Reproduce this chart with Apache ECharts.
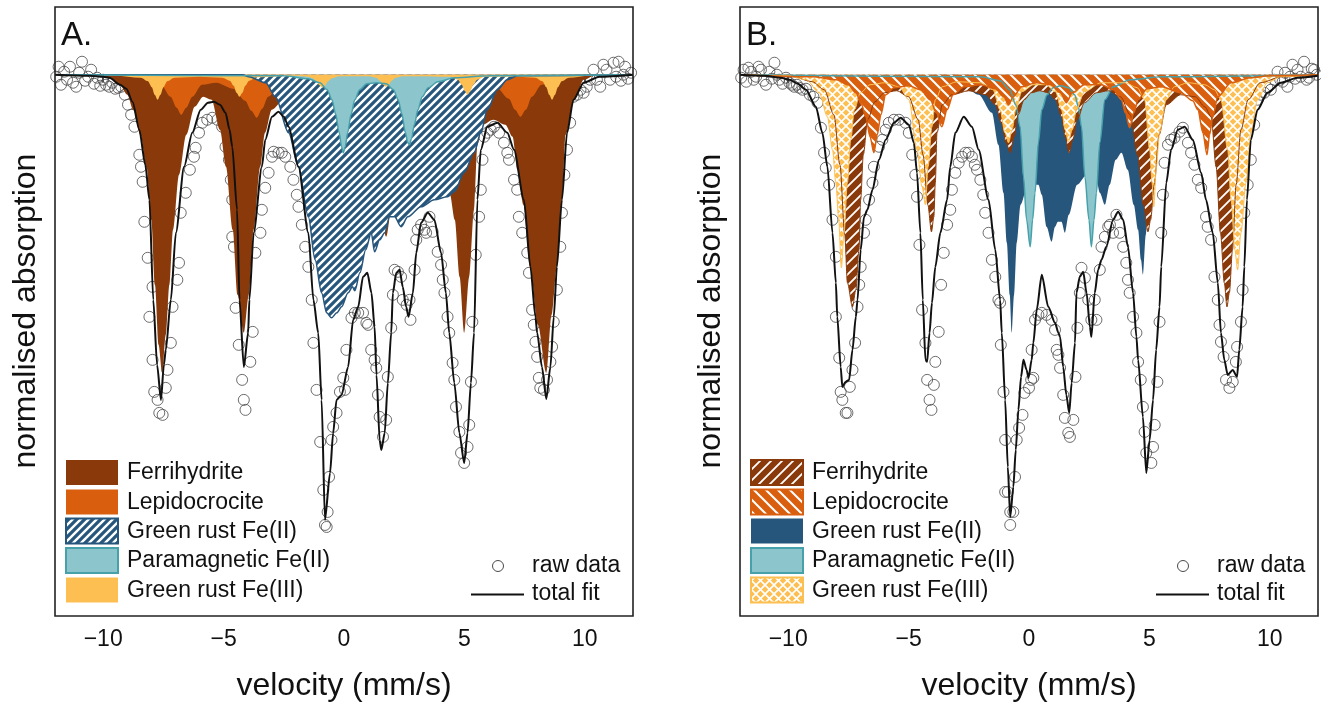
<!DOCTYPE html>
<html><head><meta charset="utf-8">
<script src="https://cdn.jsdelivr.net/npm/echarts@6/dist/echarts.min.js"></script>
<style>html,body{margin:0;padding:0;background:#fff}#c{width:1321px;height:704px}</style>
</head><body><div id="c"></div>
<script>
// ---------- DATA (velocity mm/s, absorption depth in arbitrary units) ----------
const xTicks = [-10, -5, 0, 5, 10];
const legendNames = ['Ferrihydrite', 'Lepidocrocite', 'Green rust Fe(II)', 'Paramagnetic Fe(II)', 'Green rust Fe(III)'];
const panelLabels = ['A.', 'B.'];

const A_ferrihydrite = [[-12,0],[-10.6,0.01],[-9.74,0.03],[-9.3,0.1],[-9.0,0.2],[-8.75,0.35],[-8.45,0.6],[-8.2,0.92],[-8.0,1.45],[-7.85,2.1],[-7.7,2.7],[-7.55,2.98],[-7.4,2.6],[-7.25,2.1],[-7.1,1.55],[-6.85,1.0],[-6.55,0.6],[-6.2,0.32],[-5.85,0.22],[-5.5,0.25],[-5.15,0.55],[-4.9,0.92],[-4.62,1.55],[-4.42,2.2],[-4.16,2.58],[-3.95,2.2],[-3.75,1.55],[-3.48,0.92],[-3.28,0.58],[-3.0,0.35],[-2.5,0.25],[-1.8,0.4],[-1.2,0.8],[-0.85,1.1],[-0.4,0.7],[0.4,0.45],[1.0,0.7],[1.45,1.2],[1.75,1.62],[2.05,1.2],[2.6,0.6],[3.4,0.55],[4.1,0.9],[4.4,1.2],[4.6,1.45],[4.8,2.02],[4.99,2.58],[5.2,2.02],[5.4,1.35],[5.54,0.7],[5.75,0.5],[6.2,0.45],[6.7,0.5],[7.0,0.62],[7.2,0.95],[7.45,1.3],[7.73,1.92],[8.05,2.5],[8.4,2.98],[8.62,2.4],[8.84,1.92],[9.05,1.25],[9.2,0.6],[9.55,0.25],[9.96,0.05],[10.4,0.01],[12,0]];
const A_lepidocrocite = [[-12,0],[-8.6,0.01],[-8.0,0.04],[-7.6,0.1],[-7.2,0.22],[-6.95,0.33],[-6.76,0.4],[-6.55,0.33],[-6.3,0.22],[-5.9,0.1],[-5.3,0.08],[-4.6,0.14],[-4.1,0.26],[-3.85,0.36],[-3.62,0.43],[-3.4,0.34],[-3.15,0.22],[-2.7,0.12],[-1.5,0.15],[-0.6,0.3],[0.3,0.15],[1.2,0.3],[2.5,0.15],[4.2,0.4],[5.5,0.12],[6.3,0.12],[6.85,0.24],[7.1,0.35],[7.33,0.42],[7.55,0.35],[7.8,0.22],[8.2,0.1],[9.0,0.03],[10,0.01],[12,0]];
const A_greenRustFe2 = [[-12,0],[-4.2,0],[-3.96,0.02],[-3.25,0.08],[-2.85,0.22],[-2.3,0.58],[-1.89,0.92],[-1.48,1.42],[-1.2,1.85],[-0.93,2.18],[-0.72,2.38],[-0.52,2.43],[-0.3,2.38],[-0.1,2.32],[0.17,2.18],[0.35,2.12],[0.45,2.16],[0.66,1.98],[0.9,1.75],[1.13,1.58],[1.27,1.77],[1.48,1.65],[1.69,1.58],[1.89,1.42],[2.1,1.42],[2.37,1.52],[2.65,1.42],[3.2,1.32],[3.75,1.25],[4.3,1.22],[4.58,1.17],[4.99,0.98],[5.4,0.78],[5.68,0.58],[5.95,0.35],[6.37,0.15],[6.78,0.05],[7.2,0.01],[12,0]];
const A_paramagnetic = [[-12,0],[-2.5,0.01],[-1.5,0.04],[-1.0,0.08],[-0.7,0.15],[-0.5,0.25],[-0.35,0.39],[-0.2,0.58],[-0.1,0.72],[-0.03,0.78],[0.05,0.72],[0.15,0.58],[0.3,0.39],[0.45,0.25],[0.65,0.15],[0.95,0.09],[1.35,0.08],[1.75,0.09],[2.05,0.15],[2.25,0.25],[2.4,0.39],[2.55,0.58],[2.65,0.68],[2.72,0.70],[2.8,0.64],[2.92,0.5],[3.07,0.35],[3.25,0.22],[3.5,0.13],[3.9,0.07],[4.6,0.03],[6,0.01],[12,0]];
const A_greenRustFe3 = [[-12,0],[-9.5,0.01],[-8.44,0.03],[-8.14,0.065],[-7.98,0.125],[-7.86,0.2],[-7.74,0.25],[-7.62,0.2],[-7.5,0.125],[-7.34,0.065],[-7.04,0.03],[-6.0,0.02],[-5.04,0.03],[-4.74,0.06],[-4.58,0.11],[-4.46,0.18],[-4.34,0.22],[-4.22,0.18],[-4.1,0.11],[-3.94,0.06],[-3.64,0.025],[-2.0,0.01],[-1.5,0.02],[-1.3,0.035],[-1.14,0.065],[-1.02,0.105],[-0.9,0.13],[-0.78,0.105],[-0.66,0.065],[-0.5,0.035],[-0.2,0.015],[1.04,0.015],[1.34,0.03],[1.5,0.06],[1.62,0.1],[1.74,0.12],[1.86,0.1],[1.98,0.06],[2.14,0.03],[2.44,0.015],[4.43,0.02],[4.73,0.05],[4.89,0.1],[5.01,0.16],[5.13,0.2],[5.25,0.16],[5.37,0.1],[5.53,0.05],[5.83,0.02],[7.24,0.02],[7.94,0.03],[8.24,0.065],[8.4,0.125],[8.52,0.2],[8.64,0.25],[8.76,0.2],[8.88,0.125],[9.04,0.065],[9.34,0.03],[10.2,0.01],[12,0]];
const A_totalFit = [[-12,0],[-10.6,0.01],[-10.0,0.02],[-9.74,0.03],[-9.3,0.1],[-9.04,0.14],[-8.78,0.27],[-8.5,0.55],[-8.25,0.9],[-8.08,1.25],[-7.92,2.25],[-7.76,2.9],[-7.6,3.25],[-7.48,2.9],[-7.40,2.75],[-7.19,2.25],[-6.98,1.58],[-6.64,0.92],[-6.30,0.58],[-5.95,0.35],[-5.65,0.28],[-5.40,0.27],[-5.15,0.3],[-4.92,0.38],[-4.75,0.55],[-4.64,0.72],[-4.44,1.35],[-4.34,2.25],[-4.16,2.92],[-3.98,2.58],[-3.93,2.25],[-3.75,1.58],[-3.41,0.92],[-3.27,0.65],[-2.99,0.42],[-2.72,0.37],[-2.50,0.42],[-2.30,0.52],[-1.89,0.92],[-1.48,1.58],[-1.27,2.25],[-1.07,2.58],[-0.93,3.25],[-0.79,4.45],[-0.58,3.98],[-0.45,3.58],[-0.31,3.25],[-0.10,3.20],[0.17,2.92],[0.38,2.45],[0.59,2.32],[0.79,2.02],[0.97,1.98],[1.14,2.18],[1.27,2.52],[1.35,3.0],[1.48,3.65],[1.55,3.75],[1.69,3.58],[1.82,3.08],[1.96,2.58],[2.03,2.18],[2.17,1.98],[2.31,1.95],[2.44,2.12],[2.58,2.32],[2.68,2.42],[2.86,2.18],[3.0,1.78],[3.2,1.48],[3.48,1.38],[3.75,1.45],[4.03,1.78],[4.23,2.18],[4.37,2.58],[4.58,3.08],[4.79,3.58],[4.99,3.88],[5.13,3.58],[5.27,3.08],[5.40,2.58],[5.54,1.25],[5.68,0.75],[5.95,0.52],[6.37,0.48],[6.78,0.58],[7.06,0.75],[7.47,1.25],[7.74,1.92],[7.95,2.42],[8.02,2.58],[8.22,2.92],[8.40,3.24],[8.57,2.92],[8.71,2.42],[8.84,1.92],[9.05,1.25],[9.26,0.58],[9.53,0.25],[9.95,0.08],[10.6,0.02],[12,0]];
const A_rawData = [[-11.95,0.02],[-11.85,-0.08],[-11.75,0.1],[-11.62,-0.03],[-11.5,0.05],[-11.38,-0.08],[-11.25,0.08],[-11.12,0.12],[-11.0,-0.02],[-10.88,-0.13],[-10.75,0.06],[-10.62,0.02],[-10.5,-0.05],[-10.38,0.09],[-10.25,0.03],[-10.12,0.11],[-10.0,0.05],[-9.88,0.1],[-9.75,0.12],[-9.62,0.08],[-9.5,0.14],[-9.38,0.13],[-9.25,0.12],[-9.1,0.2],[-8.97,0.3],[-8.84,0.4],[-8.7,0.52],[-8.5,0.8],[-8.43,0.92],[-8.36,1.07],[-8.29,1.47],[-8.15,1.83],[-8.08,2.42],[-7.95,2.12],[-7.95,2.85],[-7.88,3.17],[-7.74,3.25],[-7.67,3.38],[-7.53,3.4],[-7.4,3.13],[-7.33,2.95],[-7.19,2.68],[-7.12,2.32],[-6.92,2.05],[-6.85,1.88],[-6.78,1.38],[-6.57,1.18],[-6.4,0.95],[-6.23,0.82],[-6.16,0.73],[-6.02,0.58],[-5.88,0.48],[-5.68,0.45],[-5.47,0.43],[-5.26,0.45],[-5.06,0.52],[-4.92,0.72],[-4.78,0.85],[-4.7,1.05],[-4.64,1.25],[-4.64,1.62],[-4.57,1.72],[-4.5,2.33],[-4.37,2.7],[-4.23,3.05],[-4.16,3.25],[-4.09,3.35],[-3.89,2.87],[-3.79,2.57],[-3.68,1.78],[-3.47,1.58],[-3.41,1.35],[-3.27,1.13],[-3.13,0.98],[-2.99,0.82],[-2.92,0.77],[-2.72,0.78],[-2.58,0.78],[-2.44,0.82],[-2.23,0.92],[-2.1,1.05],[-1.96,1.2],[-1.89,1.32],[-1.75,1.5],[-1.61,1.72],[-1.48,1.92],[-1.34,2.25],[-1.27,2.68],[-1.14,3.15],[-0.99,3.67],[-0.86,4.15],[-0.72,4.52],[-0.79,4.5],[-0.68,4.37],[-0.62,4.02],[-0.52,3.65],[-0.45,3.52],[-0.31,3.38],[-0.17,3.17],[-0.03,3.03],[0.04,3.15],[0.1,2.75],[0.31,2.43],[0.45,2.38],[0.59,2.38],[0.79,2.38],[0.93,2.48],[1.0,2.5],[1.13,2.75],[1.27,2.85],[1.34,2.93],[1.41,3.2],[1.48,3.42],[1.62,3.62],[1.75,3.45],[1.82,3.02],[1.96,2.53],[2.03,2.2],[2.1,1.95],[2.24,1.97],[2.37,2.02],[2.44,2.25],[2.6,2.3],[2.72,2.25],[2.76,2.45],[2.93,1.95],[3.0,1.65],[3.06,1.55],[3.2,1.5],[3.34,1.55],[3.41,1.58],[3.55,1.42],[3.68,1.57],[3.89,1.77],[4.03,1.9],[4.1,2.05],[4.17,2.18],[4.3,2.42],[4.37,2.58],[4.51,2.88],[4.58,3.05],[4.65,3.32],[4.79,3.57],[4.86,3.78],[4.99,3.88],[5.13,3.72],[5.2,3.5],[5.27,3.07],[5.33,2.47],[5.47,1.8],[5.61,1.42],[5.68,1.15],[5.75,0.85],[5.82,0.62],[5.95,0.58],[6.09,0.55],[6.23,0.52],[6.44,0.58],[6.64,0.68],[6.78,0.78],[6.85,0.85],[7.06,1.05],[7.19,1.15],[7.26,1.42],[7.4,1.58],[7.61,1.78],[7.68,1.98],[7.81,2.35],[7.88,2.5],[7.95,2.67],[8.02,2.82],[8.09,3.03],[8.15,3.13],[8.3,3.15],[8.43,3.05],[8.57,2.87],[8.64,2.72],[8.71,2.47],[8.84,2.15],[8.98,1.72],[9.05,1.38],[9.15,1.0],[9.26,0.75],[9.39,0.48],[9.53,0.22],[9.68,0.2],[9.82,0.15],[9.95,0.18],[10.08,0.12],[10.22,0.05],[10.36,-0.05],[10.5,0.05],[10.64,0.12],[10.77,-0.1],[10.9,-0.05],[11.05,0.05],[11.19,-0.12],[11.3,0.02],[11.4,-0.13],[11.5,0.06],[11.6,0],[11.67,-0.08],[11.8,0.04],[11.92,-0.02]];

const B_ferrihydrite = [[-12,0],[-9.8,0.02],[-9.0,0.07],[-8.5,0.15],[-8.1,0.4],[-7.85,0.9],[-7.65,1.6],[-7.54,2.08],[-7.33,2.32],[-7.19,2.15],[-7.06,1.75],[-6.99,1.25],[-6.88,0.8],[-6.7,0.45],[-6.4,0.27],[-6.0,0.18],[-5.5,0.16],[-5.0,0.22],[-4.6,0.45],[-4.4,0.8],[-4.2,1.3],[-4.05,1.57],[-3.95,1.42],[-3.89,1.08],[-3.82,0.58],[-3.6,0.3],[-3.2,0.2],[-2.5,0.16],[-1.8,0.2],[-1.4,0.3],[-1.15,0.48],[-0.95,0.68],[-0.78,0.78],[-0.62,0.62],[-0.45,0.4],[-0.2,0.25],[0.1,0.18],[0.45,0.16],[0.8,0.18],[1.1,0.25],[1.35,0.42],[1.5,0.62],[1.66,0.78],[1.82,0.65],[2.0,0.45],[2.3,0.28],[2.8,0.18],[3.3,0.16],[3.8,0.22],[4.2,0.4],[4.5,0.8],[4.75,1.3],[4.94,1.57],[5.05,1.45],[5.2,1.1],[5.4,0.6],[5.7,0.3],[6.3,0.2],[6.9,0.22],[7.3,0.32],[7.56,0.42],[7.77,0.92],[7.95,1.58],[8.11,2.08],[8.22,2.32],[8.32,2.18],[8.45,1.75],[8.6,1.1],[8.8,0.55],[9.1,0.25],[9.6,0.08],[10.5,0.02],[12,0]];
const B_lepidocrocite = [[-12,0],[-9.0,0.02],[-8.0,0.05],[-7.5,0.1],[-7.19,0.18],[-6.95,0.3],[-6.78,0.42],[-6.6,0.62],[-6.44,0.78],[-6.3,0.6],[-6.15,0.4],[-5.95,0.2],[-5.6,0.13],[-5.0,0.11],[-4.5,0.15],[-4.1,0.25],[-3.85,0.38],[-3.62,0.52],[-3.4,0.35],[-3.15,0.2],[-2.7,0.12],[-2.0,0.1],[-1.4,0.14],[-1.05,0.22],[-0.85,0.3],[-0.65,0.22],[-0.3,0.12],[0.3,0.08],[0.9,0.1],[1.3,0.18],[1.55,0.28],[1.8,0.18],[2.3,0.1],[3.0,0.1],[3.5,0.15],[3.84,0.25],[4.0,0.38],[4.18,0.53],[4.35,0.38],[4.53,0.25],[4.9,0.14],[5.5,0.12],[6.3,0.18],[6.8,0.26],[7.01,0.35],[7.22,0.58],[7.39,0.8],[7.5,0.6],[7.63,0.42],[7.84,0.22],[8.39,0.08],[9.2,0.03],[10,0.01],[12,0]];
const B_greenRustFe2 = [[-12,0],[-4.0,0],[-3.2,0.05],[-2.64,0.13],[-2.09,0.2],[-1.54,0.38],[-1.27,0.7],[-1.06,1.18],[-0.92,1.68],[-0.8,2.2],[-0.72,2.58],[-0.62,2.2],[-0.51,1.68],[-0.35,1.3],[-0.1,1.15],[0.2,1.1],[0.39,1.1],[0.53,1.2],[0.73,1.52],[0.94,1.67],[1.08,1.52],[1.2,1.47],[1.35,1.47],[1.49,1.58],[1.65,1.4],[2.0,1.1],[2.4,1.0],[2.8,1.05],[2.94,1.18],[3.15,1.3],[3.35,1.1],[3.6,0.85],[3.84,0.78],[4.1,0.95],[4.35,1.3],[4.53,1.55],[4.65,1.85],[4.73,2.0],[4.85,1.6],[5.0,1.1],[5.2,0.55],[5.5,0.22],[6.0,0.08],[7.0,0.02],[12,0]];
const B_paramagnetic = [[-12,0],[-2.0,0.02],[-1.2,0.06],[-0.8,0.15],[-0.55,0.3],[-0.37,0.52],[-0.23,1.02],[-0.1,1.45],[0.05,1.72],[0.15,1.45],[0.25,1.18],[0.39,0.68],[0.53,0.35],[0.75,0.2],[1.0,0.13],[1.32,0.11],[1.65,0.13],[1.9,0.2],[2.05,0.32],[2.18,0.52],[2.32,1.02],[2.49,1.45],[2.59,1.72],[2.7,1.45],[2.8,1.18],[2.94,0.68],[3.15,0.25],[3.5,0.12],[4.2,0.05],[5.5,0.02],[12,0]];
const B_greenRustFe3 = [[-12,0],[-10.0,0.01],[-9.26,0.05],[-8.71,0.18],[-8.37,0.42],[-8.16,0.75],[-8.02,1.08],[-7.91,1.42],[-7.79,1.93],[-7.68,1.58],[-7.54,1.08],[-7.4,0.65],[-7.25,0.35],[-7.0,0.18],[-6.6,0.1],[-6.0,0.08],[-5.4,0.12],[-4.99,0.25],[-4.65,0.75],[-4.44,1.12],[-4.3,1.3],[-4.19,0.92],[-4.03,0.52],[-3.89,0.25],[-3.6,0.12],[-3.0,0.07],[-2.0,0.08],[-1.5,0.15],[-1.2,0.35],[-1.0,0.58],[-0.85,0.68],[-0.7,0.55],[-0.55,0.35],[-0.3,0.17],[0.2,0.1],[0.7,0.1],[1.1,0.17],[1.35,0.35],[1.5,0.55],[1.63,0.67],[1.8,0.55],[1.97,0.35],[2.3,0.17],[3.0,0.08],[4.0,0.08],[4.5,0.13],[4.8,0.25],[5.01,0.75],[5.11,1.08],[5.18,1.32],[5.29,0.92],[5.42,0.58],[5.7,0.25],[6.04,0.12],[6.6,0.08],[7.3,0.1],[7.7,0.15],[7.97,0.25],[8.25,0.75],[8.39,1.25],[8.55,1.75],[8.66,1.95],[8.8,1.58],[9.01,1.08],[9.21,0.58],[9.49,0.25],[9.9,0.08],[10.45,0.02],[12,0]];
const B_totalFit = [[-12,0],[-11,0.01],[-10.3,0.03],[-9.95,0.05],[-9.6,0.09],[-9.26,0.15],[-8.85,0.32],[-8.58,0.58],[-8.37,0.92],[-8.16,1.58],[-8.02,2.08],[-7.96,2.42],[-7.82,2.92],[-7.75,3.12],[-7.62,3.07],[-7.47,3.05],[-7.33,2.75],[-7.19,2.42],[-7.12,2.25],[-6.99,1.75],[-6.85,1.42],[-6.71,1.35],[-6.5,1.15],[-6.23,0.85],[-5.95,0.65],[-5.61,0.48],[-5.33,0.43],[-4.99,0.5],[-4.78,0.68],[-4.65,0.98],[-4.51,1.58],[-4.41,2.25],[-4.30,2.85],[-4.23,2.87],[-4.13,2.58],[-4.03,2.28],[-3.89,1.92],[-3.68,1.58],[-3.40,1.25],[-3.27,0.92],[-3.06,0.58],[-2.71,0.42],[-2.37,0.52],[-2.09,0.75],[-1.68,1.25],[-1.40,1.75],[-1.20,2.25],[-1.13,2.58],[-0.99,3.25],[-0.88,3.92],[-0.78,4.42],[-0.65,4.12],[-0.55,3.75],[-0.44,3.35],[-0.33,3.02],[-0.23,2.85],[-0.1,2.95],[-0.02,3.03],[0.11,2.85],[0.18,2.68],[0.32,2.35],[0.53,2.0],[0.8,2.32],[1.08,2.48],[1.22,2.58],[1.29,2.62],[1.42,2.92],[1.55,3.2],[1.67,3.38],[1.77,3.08],[1.91,2.68],[1.97,2.18],[2.11,2.02],[2.25,1.97],[2.39,2.18],[2.53,2.52],[2.59,2.62],[2.73,2.18],[2.87,1.95],[3.01,1.85],[3.21,1.72],[3.49,1.45],[3.70,1.37],[3.91,1.45],[4.11,1.72],[4.32,2.18],[4.46,2.62],[4.53,2.85],[4.73,3.42],[4.87,3.98],[5.01,3.65],[5.15,3.25],[5.28,2.75],[5.42,2.32],[5.49,1.92],[5.70,1.08],[5.90,0.75],[6.18,0.55],[6.46,0.52],[6.80,0.65],[7.15,0.98],[7.35,1.25],[7.63,1.58],[7.84,2.08],[7.97,2.58],[8.11,2.85],[8.25,3.0],[8.46,2.95],[8.64,3.02],[8.73,2.75],[8.87,2.32],[8.94,1.92],[9.05,1.25],[9.21,0.65],[9.49,0.35],[9.90,0.18],[10.46,0.08],[11.15,0.03],[12,0.01]];
const B_rawData = [[-11.95,0.03],[-11.85,-0.05],[-11.74,0.07],[-11.65,-0.07],[-11.54,-0.03],[-11.43,0.05],[-11.33,0.02],[-11.23,-0.08],[-11.13,-0.05],[-11.02,0.06],[-10.92,0.1],[-10.78,-0.03],[-10.68,0.04],[-10.57,-0.12],[-10.47,0.0],[-10.37,0.05],[-10.23,0.09],[-10.09,0.03],[-9.95,0.08],[-9.85,0.1],[-9.75,0.12],[-9.64,0.1],[-9.54,0.13],[-9.4,0.15],[-9.26,0.14],[-9.1,0.2],[-8.95,0.22],[-8.78,0.28],[-8.64,0.53],[-8.51,0.78],[-8.44,0.93],[-8.3,1.1],[-8.16,1.45],[-8.02,1.82],[-8.02,2.42],[-7.88,2.83],[-7.82,3.17],[-7.75,3.25],[-7.61,3.38],[-7.54,3.38],[-7.44,3.12],[-7.33,2.95],[-7.22,2.68],[-7.12,2.32],[-7.05,2.1],[-6.99,1.92],[-6.85,1.58],[-6.78,1.45],[-6.64,1.25],[-6.5,1.08],[-6.44,0.92],[-6.23,0.72],[-6.09,0.65],[-5.95,0.55],[-5.82,0.48],[-5.61,0.45],[-5.4,0.45],[-5.13,0.48],[-4.99,0.58],[-4.85,0.8],[-4.72,1.0],[-4.65,1.22],[-4.55,1.7],[-4.44,2.35],[-4.3,2.68],[-4.23,3.05],[-4.13,3.25],[-4.05,3.35],[-3.95,3.1],[-3.89,2.87],[-3.75,2.57],[-3.65,2.1],[-3.54,1.78],[-3.4,1.5],[-3.27,1.35],[-3.2,1.15],[-3.06,0.98],[-2.92,0.88],[-2.78,0.82],[-2.64,0.78],[-2.51,0.78],[-2.37,0.82],[-2.25,0.9],[-2.16,0.95],[-2.02,1.05],[-1.9,1.2],[-1.82,1.38],[-1.68,1.58],[-1.54,1.85],[-1.4,2.02],[-1.27,2.25],[-1.2,2.28],[-1.17,2.7],[-1.06,3.17],[-0.99,3.65],[-0.99,4.17],[-0.88,4.17],[-0.78,4.37],[-0.78,4.5],[-0.65,4.37],[-0.58,4.02],[-0.51,3.65],[-0.41,3.53],[-0.27,3.4],[-0.19,3.18],[0.0,3.13],[0.09,3.05],[0.18,3.03],[0.11,2.75],[0.25,2.45],[0.39,2.4],[0.53,2.38],[0.73,2.4],[0.94,2.45],[1.08,2.55],[1.15,2.75],[1.22,2.8],[1.29,2.93],[1.42,3.2],[1.49,3.43],[1.63,3.58],[1.7,3.62],[1.84,3.45],[1.93,3.02],[2.01,2.53],[2.11,2.18],[2.18,1.93],[2.32,2.03],[2.46,2.25],[2.59,2.45],[2.73,2.25],[2.8,2.45],[2.94,1.95],[3.01,1.72],[3.15,1.62],[3.29,1.52],[3.36,1.5],[3.49,1.58],[3.63,1.4],[3.77,1.58],[3.91,1.72],[4.04,1.88],[4.11,2.05],[4.18,2.18],[4.32,2.42],[4.46,2.58],[4.53,2.87],[4.64,3.05],[4.73,3.32],[4.8,3.57],[4.87,3.78],[5.08,3.88],[5.15,3.72],[5.22,3.5],[5.33,3.07],[5.42,2.47],[5.49,1.58],[5.56,1.2],[5.63,0.88],[5.77,0.7],[5.9,0.65],[6.04,0.63],[6.25,0.57],[6.39,0.53],[6.6,0.68],[6.73,0.78],[6.87,0.9],[7.01,1.05],[7.15,1.13],[7.35,1.42],[7.42,1.52],[7.56,1.65],[7.7,2.02],[7.84,2.25],[7.91,2.5],[7.97,2.67],[8.08,2.82],[8.18,3.05],[8.32,3.13],[8.46,3.07],[8.59,2.87],[8.64,2.72],[8.8,2.47],[8.87,2.15],[8.94,1.38],[9.08,1.1],[9.21,0.85],[9.35,0.5],[9.49,0.25],[9.63,0.2],[9.77,0.18],[9.9,0.13],[10.04,0.15],[10.18,0.05],[10.32,-0.03],[10.43,0.05],[10.53,0.07],[10.63,-0.02],[10.73,0.12],[10.84,0.02],[10.94,-0.1],[11.05,0.04],[11.15,-0.05],[11.28,0.02],[11.42,-0.13],[11.53,0.05],[11.63,0.03],[11.74,-0.06],[11.84,-0.05],[11.95,0.0]];

// ---------- STYLE ----------
const FONT = '"Liberation Sans", Arial, Helvetica, sans-serif';
const C = {ferri:'#8A3A0A', lepi:'#D95F0E', gr2:'#27567D', para:'#8CC5CC', paraEdge:'#47A1AB', gr3:'#FDBF52'};

function pattern(bg, kind, size, lw) {
  const c = document.createElement('canvas'); c.width = size; c.height = size;
  const g = c.getContext('2d'); g.fillStyle = bg; g.fillRect(0, 0, size, size);
  g.strokeStyle = '#ffffff'; g.lineWidth = lw;
  const fwd = () => { g.beginPath(); g.moveTo(-size/2, size/2); g.lineTo(size/2, -size/2);
    g.moveTo(0, size); g.lineTo(size, 0); g.moveTo(size/2, size*1.5); g.lineTo(size*1.5, size/2); g.stroke(); };
  const back = () => { g.beginPath(); g.moveTo(-size/2, size/2); g.lineTo(size/2, size*1.5);
    g.moveTo(0, 0); g.lineTo(size, size); g.moveTo(size/2, -size/2); g.lineTo(size*1.5, size/2); g.stroke(); };
  if (kind === 'fwd') fwd(); else if (kind === 'back') back(); else { fwd(); back(); }
  return {image: c, repeat: 'repeat'};
}
const P = {
  grA: pattern(C.gr2, 'fwd', 8, 2.4),
  ferriB: pattern(C.ferri, 'fwd', 11, 1.8),
  lepiB: pattern(C.lepi, 'back', 12, 2.0),
  gr3B: pattern(C.gr3, 'cross', 9, 1.6)
};

function area(name, data, idx, fill, stroke, sw) {
  return {type:'line', name, xAxisIndex:idx, yAxisIndex:idx, data, smooth:0.3, smoothMonotone:'x',
    symbol:'none', silent:true, lineStyle:{color:stroke || fill, width: sw || 0}, areaStyle:{color:fill, opacity:1}};
}
function fitLine(data, idx) {
  return {type:'line', name:'total fit', xAxisIndex:idx, yAxisIndex:idx, data, smooth:0.25, smoothMonotone:'x',
    symbol:'none', silent:true, lineStyle:{color:'#111', width:2}};
}
function raw(data, idx) {
  return {type:'scatter', name:'raw data', xAxisIndex:idx, yAxisIndex:idx, data, symbol:'circle', symbolSize:11,
    silent:true, itemStyle:{color:'rgba(0,0,0,0)', borderColor:'#4a4a4a', borderWidth:1}};
}

const series = [
  area(legendNames[0], A_ferrihydrite, 0, C.ferri),
  area(legendNames[1], A_lepidocrocite, 0, C.lepi),
  area(legendNames[2], A_greenRustFe2, 0, P.grA, C.gr2, 1.5),
  area(legendNames[3], A_paramagnetic, 0, C.para, C.paraEdge, 1.5),
  area(legendNames[4], A_greenRustFe3, 0, C.gr3),
  fitLine(A_totalFit, 0), raw(A_rawData, 0),
  area(legendNames[2], B_greenRustFe2, 1, C.gr2),
  area(legendNames[3], B_paramagnetic, 1, C.para, C.paraEdge, 1.5),
  area(legendNames[0], B_ferrihydrite, 1, P.ferriB, C.ferri, 1),
  area(legendNames[4], B_greenRustFe3, 1, P.gr3B, C.gr3, 1),
  area(legendNames[1], B_lepidocrocite, 1, P.lepiB, C.lepi, 1.5),
  fitLine(B_totalFit, 1), raw(B_rawData, 1)
];

const grids = [{left:55, top:7, width:578, height:609}, {left:740, top:7, width:578, height:609}];
const xAxes = grids.map((g, i) => ({type:'value', gridIndex:i, min:-12, max:12,
  axisLine:{show:false}, splitLine:{show:false},
  axisTick:{show:true, inside:false, length:8, customValues:xTicks, lineStyle:{color:'#222', width:1.5}},
  axisLabel:{show:true, margin:12, customValues:xTicks, color:'#111', fontSize:23, fontFamily:FONT,
    formatter: v => (v < 0 ? '\u2212' + Math.abs(v) : String(v))}}));
const yAxes = grids.map((g, i) => ({type:'value', gridIndex:i, min:-0.677, max:5.41, inverse:true,
  axisLine:{show:false}, axisTick:{show:false}, axisLabel:{show:false}, splitLine:{show:false}}));

// legend + titles as graphic
const graphic = [];
const swatchA = [{fill:C.ferri}, {fill:C.lepi}, {fill:P.grA, stroke:C.gr2}, {fill:C.para, stroke:C.paraEdge}, {fill:C.gr3}];
const swatchB = [{fill:P.ferriB, stroke:C.ferri}, {fill:P.lepiB, stroke:C.lepi}, {fill:C.gr2}, {fill:C.para, stroke:C.paraEdge}, {fill:P.gr3B, stroke:C.gr3}];
const rowTop = [460, 489.5, 518.5, 548, 577.5];
[[66, swatchA], [751, swatchB]].forEach(([sx, sw], p) => {
  sw.forEach((s, i) => {
    graphic.push({type:'rect', z:100, shape:{x:sx, y:rowTop[i], width:52, height:25},
      style:{fill:s.fill, stroke:s.stroke || null, lineWidth:s.stroke ? 2 : 0}});
    graphic.push({type:'text', z:100, x:sx + 61, y:rowTop[i] + 13,
      style:{text:legendNames[i], font:'23px ' + FONT, fill:'#111', align:'left', verticalAlign:'middle'}});
  });
  const ox = p === 0 ? 0 : 685;
  graphic.push({type:'circle', z:100, shape:{cx:498 + ox, cy:566, r:5.5}, style:{fill:'none', stroke:'#4a4a4a', lineWidth:1}});
  graphic.push({type:'text', z:100, x:532 + ox, y:566, style:{text:'raw data', font:'23px ' + FONT, fill:'#111', align:'left', verticalAlign:'middle'}});
  graphic.push({type:'line', z:100, shape:{x1:471 + ox, y1:594.5, x2:524 + ox, y2:594.5}, style:{stroke:'#111', lineWidth:2}});
  graphic.push({type:'text', z:100, x:532 + ox, y:594, style:{text:'total fit', font:'23px ' + FONT, fill:'#111', align:'left', verticalAlign:'middle'}});
  const gx = grids[p].left;
  graphic.push({type:'text', z:100, x:gx + 6, y:36, style:{text:panelLabels[p], font:'33px ' + FONT, fill:'#111', align:'left', verticalAlign:'middle'}});
  graphic.push({type:'text', z:100, x:gx - 29, y:311, rotation:Math.PI / 2,
    style:{text:'normalised absorption', font:'32px ' + FONT, fill:'#111', align:'center', verticalAlign:'middle'}});
  graphic.push({type:'text', z:100, x:gx + 289, y:686,
    style:{text:'velocity (mm/s)', font:'32px ' + FONT, fill:'#111', align:'center', verticalAlign:'middle'}});
  graphic.push({type:'rect', z:99, shape:{x:gx, y:7, width:578, height:609}, style:{fill:'none', stroke:'#222', lineWidth:1.6}});
});

const chart = echarts.init(document.getElementById('c'), null, {renderer:'canvas'});
chart.setOption({animation:false, backgroundColor:'#ffffff', grid:grids, xAxis:xAxes, yAxis:yAxes, series, graphic});
</script>
</body></html>
